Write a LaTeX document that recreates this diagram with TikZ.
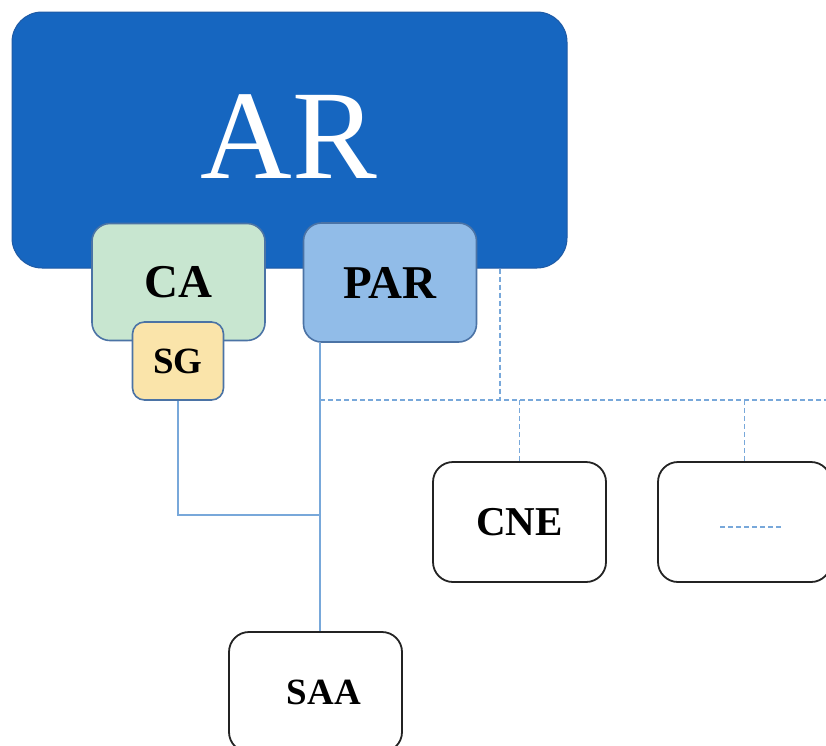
\documentclass[tikz,border=0pt]{standalone}
\usepackage{fontspec}
\setmainfont{Liberation Serif}
\definecolor{arblue}{RGB}{22,102,192}
\definecolor{arline}{RGB}{30,90,165}
\definecolor{cafill}{RGB}{200,230,208}
\definecolor{parfill}{RGB}{145,188,232}
\definecolor{sgfill}{RGB}{250,228,170}
\definecolor{boxline}{RGB}{75,115,165}
\definecolor{linkblue}{RGB}{120,168,218}
\definecolor{darkline}{RGB}{35,35,35}
\tikzset{
  arbox/.style={draw=arline, line width=1pt, fill=arblue, rounded corners=30pt, minimum width=555pt, minimum height=256pt, inner sep=0pt},
  subbox/.style={draw=boxline, line width=1.6pt, rounded corners=18pt, minimum width=173pt, minimum height=117pt, inner sep=0pt, font=\fontsize{47}{50}\selectfont\bfseries},
  sgbox/.style={draw=boxline, line width=1.6pt, fill=sgfill, rounded corners=12pt, minimum width=91pt, minimum height=78pt, inner sep=0pt, font=\fontsize{37}{40}\selectfont\bfseries},
  plainbox/.style={draw=darkline, line width=1.8pt, fill=white, rounded corners=20pt, minimum width=173pt, minimum height=120pt, inner sep=0pt, font=\fontsize{41}{44}\selectfont\bfseries},
  lbl/.style={inner sep=0pt, font=\fontsize{37}{40}\selectfont\bfseries},
  link/.style={draw=linkblue, line width=1.1pt},
  dlink/.style={draw=linkblue, line width=1.1pt, dash pattern=on 5pt off 3pt}
}
\begin{document}
\begin{tikzpicture}[x=1pt,y=-1pt]
\clip (0,0) rectangle (826,745);
\fill[white] (0,0) rectangle (826,745);
% main box
\node[arbox] (AR) at (289.5,140) {};
\node[inner sep=0pt, text=white, font=\fontsize{127}{130}\selectfont] (ARt) at (289,137) {AR};
% coordinates
\coordinate (j) at (320,400);
\coordinate (d) at (500,400);
\coordinate (e) at (830,400);
\coordinate (m) at (320,515);
% lower boxes
\node[plainbox] (CNE) at (519.5,522) {CNE};
\node[plainbox] (X) at (744.5,522) {};
\node[plainbox] (SAA) at (315.5,692) {};
\node[lbl] (SAAt) at (324,692) {SAA};
\coordinate (xa) at (720,527);
\coordinate (xb) at (782,527);
% dashed connectors
\draw[dlink] (AR.south -| d) -- (d);
\draw[dlink] (j) -- (e);
\draw[dlink] (CNE.north |- j) -- (CNE.north);
\draw[dlink] (X.north |- j) -- (X.north);
\draw[dlink] (xa) -- (xb);
% sub boxes
\node[subbox, fill=cafill] (CA) at (178.5,282) {CA};
\node[subbox, fill=parfill, minimum height=119pt] (PAR) at (390,282.5) {PAR};
\node[sgbox] (SG) at (178,361) {SG};
% solid connectors
\draw[link] (PAR.south -| j) -- (SAA.north -| j);
\draw[link] (SG.south) |- (m);
\end{tikzpicture}
\end{document}
